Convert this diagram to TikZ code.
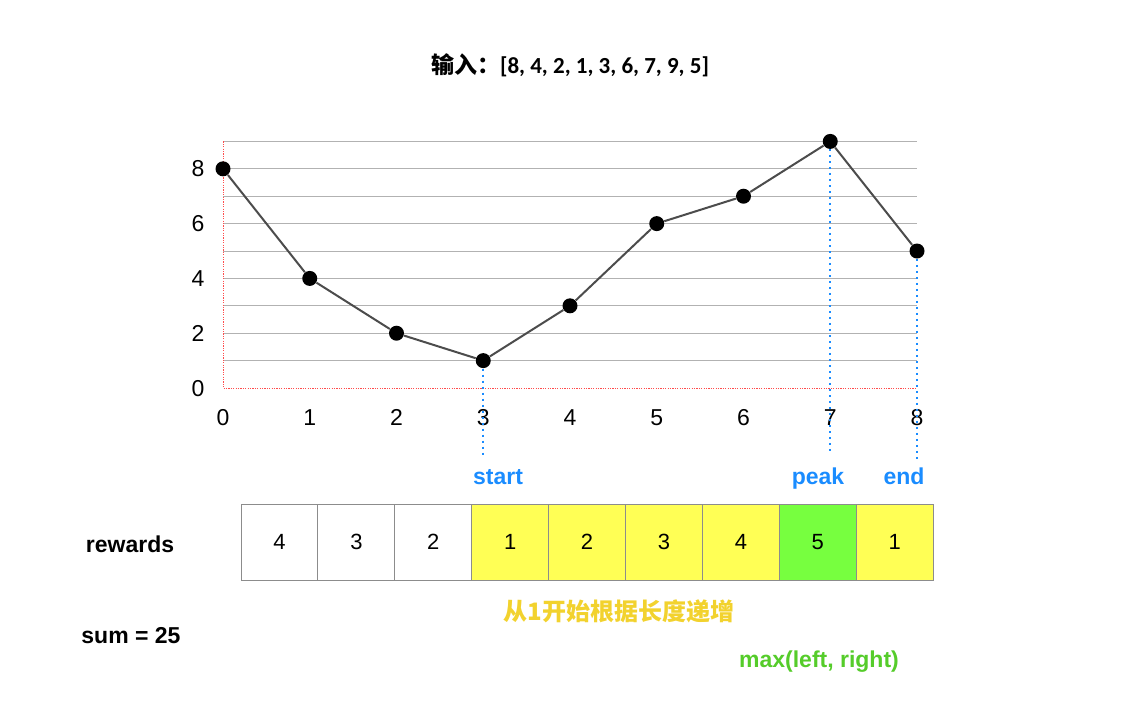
\documentclass[tikz,border=0pt]{standalone}
\usepackage{fontspec}
\setmainfont{Liberation Sans}
\newfontfamily\cjk{Noto Sans CJK SC}
\newfontfamily\titlefont{Carlito}
\usetikzlibrary{positioning}
\definecolor{guideblue}{HTML}{1A8CFF}
\definecolor{cellyellow}{HTML}{FFFF55}
\definecolor{cellgreen}{HTML}{77FF3F}
\definecolor{notegold}{HTML}{F2D22E}
\definecolor{notegreen}{HTML}{55CC2A}
\tikzstyle{gridline} = [draw=black!30, line width=0.5pt]
\tikzstyle{axisline} = [draw=red!70, line width=0.4pt, dash pattern=on 0.6pt off 0.6pt]
\tikzstyle{curve} = [draw=black!70, line width=1pt]
\tikzstyle{guide} = [draw=guideblue, line width=1pt, dash pattern=on 1pt off 2pt]
\tikzset{
 datapt/.style
  = {circle, fill=black, inner sep=0pt, minimum size=7.5pt},
 tick/.style
  = {anchor=base, font=\fontsize{11.5}{13}\selectfont},
 cell/.style
  = {rectangle, draw=black!45, line width=0.5pt, minimum width=38.45pt,
     minimum height=38pt, outer sep=0pt, font=\fontsize{11}{13}\selectfont},
 guidelabel/.style
  = {anchor=base, font=\bfseries\fontsize{11.5}{13}\selectfont, text=guideblue},
 plain/.style
  = {font=\bfseries\fontsize{11.5}{13}\selectfont},
}

\begin{document}
\begin{tikzpicture}[x=0.5pt, y=-0.5pt]
\useasboundingbox (0,0) rectangle (1141,720);
\node (title) at (570,65) {\fontsize{11.5}{13}\selectfont\bfseries\cjk 输入：\titlefont [8, 4, 2, 1, 3, 6, 7, 9, 5]};
% grid and axes
\foreach \k in {1,...,9}
  \draw[gridline] (223,388-27.4*\k) -- (917,388-27.4*\k);
\draw[axisline] (223,141.4) -- (223,388) -- (917,388);
\foreach \k in {0,2,4,6,8}
  \node[tick] (yt\k) at (198,396-27.4*\k) {\k};
\foreach \i in {0,...,8}
  \node[tick] (xt\i) at (223+86.75*\i,425) {\i};
% data
\foreach \v [count=\i from 0] in {8,4,2,1,3,6,7,9,5}
  \node[datapt] (p\i) at (223+86.75*\i, 388-27.4*\v) {};
\draw[curve] (p0) -- (p1) -- (p2) -- (p3) -- (p4) -- (p5) -- (p6) -- (p7) -- (p8);
% markers
\coordinate (g3) at (483.25,455);
\coordinate (g7) at (830.25,455);
\coordinate (g8) at (917,460);
\draw[guide] (p3.south) -- (g3);
\draw[guide] (p7.south) -- (g7);
\draw[guide] (p8.south) -- (g8);
\node[guidelabel] (start) at (498,484) {start};
\node[guidelabel] (peak) at (818,484) {peak};
\node[guidelabel] (end) at (904,484) {end};
% rewards
\node[plain] (rewards) at (130,544) {rewards};
\node[cell] (r0) at (279.5,542) {4};
\node[cell, right=0pt of r0] (r1) {3};
\node[cell, right=0pt of r1] (r2) {2};
\node[cell, fill=cellyellow, right=0pt of r2] (r3) {1};
\node[cell, fill=cellyellow, right=0pt of r3] (r4) {2};
\node[cell, fill=cellyellow, right=0pt of r4] (r5) {3};
\node[cell, fill=cellyellow, right=0pt of r5] (r6) {4};
\node[cell, fill=cellgreen, right=0pt of r6] (r7) {5};
\node[cell, fill=cellyellow, right=0pt of r7] (r8) {1};
\node[font=\bfseries\fontsize{12}{14}\selectfont\cjk, text=notegold] (rise) at (619,611) {从1开始根据长度递增};
\node[plain] (sum) at (131,636) {sum = 25};
\node[plain, text=notegreen] (maxnote) at (819,662) {max(left, right)};
\end{tikzpicture}
\end{document}
